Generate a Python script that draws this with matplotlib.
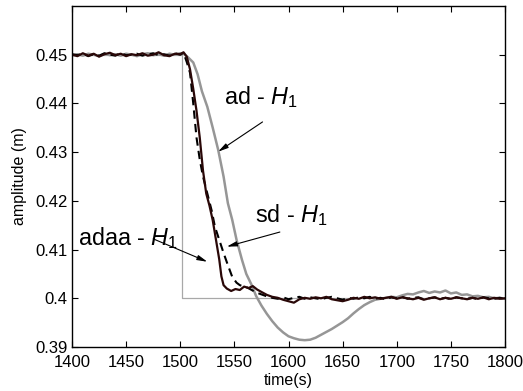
import numpy as np
import matplotlib
matplotlib.use("Agg")
import matplotlib.pyplot as plt

plt.rcParams['font.family'] = ['Liberation Sans', 'DejaVu Sans']
plt.rcParams['mathtext.fontset'] = 'custom'
plt.rcParams['mathtext.it'] = 'Liberation Sans:italic'
plt.rcParams['mathtext.rm'] = 'Liberation Sans'

# reference step
ref_t = [1400, 1502, 1502, 1800]
ref_y = [0.45, 0.45, 0.40, 0.40]

head_t = np.arange(1400, 1501, 5)
tail_t = np.arange(1585, 1801, 5)

# adaa - H1 (solid)
adaa_t = np.concatenate([head_t,
    [1503, 1506, 1509, 1512, 1515, 1518, 1521, 1524, 1527, 1530, 1533, 1536,
     1538, 1540, 1543, 1547, 1551, 1555, 1559, 1563, 1567, 1571, 1575, 1580],
    tail_t])
adaa_y = np.concatenate([
    [0.4500, 0.4497, 0.4503, 0.4498, 0.4502, 0.4496, 0.4501, 0.4504, 0.4499, 0.4502,
     0.4497, 0.4501, 0.4499, 0.4503, 0.4498, 0.4500, 0.4505, 0.4499, 0.4497, 0.4502, 0.4501],
    [0.4505, 0.4496, 0.4470, 0.4430, 0.4385, 0.4330, 0.4262, 0.4215, 0.4190, 0.4160,
     0.4120, 0.4080, 0.4045, 0.4027, 0.4020, 0.4015, 0.4019, 0.4017, 0.4024, 0.4021,
     0.4025, 0.4018, 0.4013, 0.4007],
    [0.4003, 0.4001, 0.3997, 0.3994, 0.3991, 0.3998, 0.4001, 0.3999, 0.4002, 0.4000,
     0.4003, 0.3998, 0.3996, 0.3994, 0.3997, 0.4001, 0.3999, 0.4003, 0.4000, 0.4002,
     0.3999, 0.4001, 0.4003, 0.3999, 0.4002, 0.4000, 0.3998, 0.4001, 0.3997, 0.4000,
     0.4002, 0.3998, 0.4001, 0.3999, 0.4002, 0.4000, 0.3998, 0.4001, 0.3999, 0.4002,
     0.3998, 0.4001, 0.3999, 0.4000]])

# sd - H1 (dashed)
sd_t = np.concatenate([head_t,
    [1503, 1506, 1509, 1512, 1515, 1518, 1521, 1525, 1529, 1532, 1536, 1540,
     1544, 1548, 1552, 1555, 1559, 1562, 1566, 1570, 1575, 1580],
    tail_t])
sd_y = np.concatenate([
    [0.4501, 0.4499, 0.4502, 0.4497, 0.4501, 0.4498, 0.4503, 0.4500, 0.4498, 0.4503,
     0.4499, 0.4500, 0.4502, 0.4498, 0.4501, 0.4503, 0.4499, 0.4501, 0.4498, 0.4503, 0.4500],
    [0.4504, 0.4485, 0.4463, 0.4400, 0.4330, 0.4285, 0.4250, 0.4215, 0.4180, 0.4147,
     0.4120, 0.4093, 0.4068, 0.4044, 0.4032, 0.4027, 0.4024, 0.4022, 0.4017, 0.4012,
     0.4008, 0.4004],
    [0.4001, 0.3999, 0.4002, 0.3998, 0.4001, 0.4003, 0.3999, 0.4002, 0.4000, 0.3998,
     0.4001, 0.4003, 0.4000, 0.3997, 0.4001, 0.3999, 0.4002, 0.4000, 0.4003, 0.3999,
     0.4001, 0.3998, 0.4002, 0.4000, 0.4003, 0.3999, 0.4001, 0.4002, 0.3998, 0.4000,
     0.4002, 0.3999, 0.4001, 0.3998, 0.4002, 0.4000, 0.3999, 0.4001, 0.3998, 0.4002,
     0.4000, 0.3999, 0.4001, 0.3999]])

# ad - H1 (gray)
ad_t = np.concatenate([head_t,
    [1503, 1507, 1512, 1516, 1520, 1525, 1530, 1535, 1540, 1544, 1548, 1552, 1557, 1561, 1566],
    np.arange(1570, 1801, 5)])
ad_y = np.concatenate([
    [0.4499, 0.4501, 0.4498, 0.4502, 0.4500, 0.4497, 0.4502, 0.4499, 0.4501, 0.4498,
     0.4502, 0.4500, 0.4497, 0.4501, 0.4503, 0.4499, 0.4501, 0.4498, 0.4502, 0.4500, 0.4503],
    [0.4502, 0.4495, 0.4484, 0.4460, 0.4425, 0.4393, 0.4350, 0.4305, 0.4250, 0.4195,
     0.4161, 0.4120, 0.4079, 0.4050, 0.4027],
    [0.4005, 0.3985, 0.3968, 0.3953, 0.3940, 0.3930, 0.3922, 0.3918, 0.3915, 0.3914,
     0.3915, 0.3919, 0.3925, 0.3931, 0.3937, 0.3944, 0.3951, 0.3959, 0.3969, 0.3978,
     0.3986, 0.3992, 0.3997, 0.3999, 0.4001, 0.4003, 0.4002, 0.4006, 0.4009, 0.4008,
     0.4012, 0.4015, 0.4011, 0.4014, 0.4012, 0.4016, 0.4010, 0.4012, 0.4007, 0.4008,
     0.4004, 0.4005, 0.4002, 0.4003, 0.4000, 0.4001, 0.3999]])

fig = plt.figure(figsize=(5.23, 3.91), dpi=100)
ax = fig.add_axes([0.1377, 0.1125, 0.8279, 0.8722])

ax.plot(ref_t, ref_y, color='#a8a8a8', lw=0.9)
ax.plot(ad_t, ad_y, color='#969696', lw=1.8)
ax.plot(sd_t, sd_y, color='black', lw=1.5, ls=(0, (4, 2.5)))
ax.plot(adaa_t, adaa_y, color='#2a0808', lw=1.6)

arrow = dict(arrowstyle='-|>,head_length=0.6,head_width=0.15', color='black', lw=0.8,
             shrinkA=0, shrinkB=0)
ax.annotate('', xy=(1535, 0.4301), xytext=(1576, 0.4362), arrowprops=arrow)
ax.annotate('', xy=(1543, 0.4106), xytext=(1592, 0.4136), arrowprops=arrow)
ax.annotate('', xy=(1525, 0.4075), xytext=(1475, 0.4122), arrowprops=arrow)
ax.text(1574.5, 0.4414, 'ad - $H_{\\mathit{1}}$', fontsize=16.8, ha='center', va='center')
ax.text(1603, 0.4171, 'sd - $H_{\\mathit{1}}$', fontsize=16.8, ha='center', va='center')
ax.text(1452, 0.4124, 'adaa - $H_{\\mathit{1}}$', fontsize=16.8, ha='center', va='center')

ax.set_xlim(1400, 1800)
ax.set_ylim(0.39, 0.46)
ax.set_xticks(np.arange(1400, 1801, 50))
ax.set_yticks([0.39, 0.40, 0.41, 0.42, 0.43, 0.44, 0.45])
ax.set_yticklabels(['0.39', '0.4', '0.41', '0.42', '0.43', '0.44', '0.45'])
ax.tick_params(direction='in', top=True, right=True, labelsize=12, length=4.5, width=0.8, pad=3)
ax.tick_params(axis='x', pad=6)
for s in ax.spines.values():
    s.set_linewidth(1.0)
ax.set_xlabel('time(s)', fontsize=11.5, labelpad=2)
ax.set_ylabel('amplitude (m)', fontsize=11.5, labelpad=6)

fig.savefig('out.png', dpi=100)
